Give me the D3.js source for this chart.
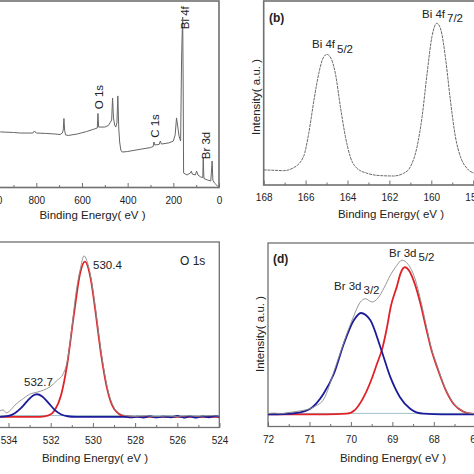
<!DOCTYPE html>
<html><head><meta charset="utf-8">
<script src="https://cdn.jsdelivr.net/npm/d3@7"></script>
<style>
html,body{margin:0;padding:0;background:#fff;}
svg{display:block;font-family:"Liberation Sans",Arial,sans-serif;}
</style></head>
<body>
<svg id="c" width="474" height="474"></svg>
<script>
// ---------- DATA ----------
// (a) survey spectrum: binding energy (eV) / intensity (a.u.)
const surveyE = [958,900,870,815,808,800,760,720,696,686,682,679,676,672,660,620,580,545,533,530,527,500,485,475,470,466,462,457,452,447,443,439,435,430,424,400,350,300,288,285,281,262,257,252,220,200,192,186,182,175,168,164,162,159,157,155,140,125,121,117,104,98,92,80,71,69,66,50,36,30,27,20,10,2];
const surveyI = [29.8,29.5,29.2,29.2,30.3,29.2,29.0,28.7,28.4,29.2,30.8,37.0,30.8,28.2,27.9,28.7,30.0,31.4,31.9,39.7,32.4,32.4,33.2,35.1,36.2,48.0,37.3,33.5,32.4,34.6,49.1,31.9,24.4,20.1,19.0,19.3,20.4,21.4,22.0,24.4,22.8,23.1,24.9,23.3,23.9,24.9,28.2,37.3,34.0,27.6,24.9,68.4,79.1,91.4,57.6,7.8,6.7,7.8,8.8,7.2,6.7,8.8,6.7,5.6,5.4,15.8,4.8,4.0,3.5,14.2,4.0,2.4,1.3,0.3];
const surveyMajor = [0,200,400,600,800,1000];
const surveyMinor = [100,300,500,700,900];
const surveyLabels = [{t:"O 1s",E:530,I:48.5},{t:"C 1s",E:285,I:33},{t:"Bi 4f",E:154,I:91},{t:"Br 3d",E:63,I:22.5}];

// (b) Bi 4f
const biE = [168,167.5,167.05,166.6,166.1,165.85,165.6,165.37,165.17,164.98,164.79,164.58,164.34,164.1,163.87,163.55,163.07,162.43,161.8,161.32,161.0,160.68,160.44,160.2,159.97,159.73,159.54,159.33,159.09,158.85,158.61,158.3,157.96];
const biI = [8.2,8.0,7.8,9.2,15.4,28.1,46.2,60.7,68.9,71.0,68.9,60.7,42.6,26.3,15.4,9.1,6.4,5.1,4.9,6.4,9.9,20.8,37.1,60.7,80.6,87.9,84.2,69.7,46.2,26.3,15.4,9.1,6.4];
const biMajor = [168,166,164,162,160,158];
const biMinor = [167,165,163,161,159];

// (c) O 1s
const oRawE = [534.4,534.25,534.1,533.95,533.7,533.3,533.0,532.66,532.35,532.03,531.72,531.4,531.2,531.0,530.8,530.6,530.42,530.3,530.1,529.9,529.6,529.3,529.0,528.7,528.4,528.0,527.5,527.0,526.5,526.0,525.5,525.0,524.5,524.0];
const oRawI = [4,4.5,2.6,3.8,7.5,11.8,14.6,15.9,17.2,19.4,23.2,28,37,57,80,95,103.7,101,90,72,41,18,6,2,0.8,0.3,0.8,0.2,0.6,0.3,0.8,0.4,0.9,0.5];
const oLatticeE = [534.4,533.5,533.0,532.5,532.1,531.8,531.5,531.2,530.9,530.6,530.38,530.1,529.9,529.6,529.3,529.0,528.5,528.0,524.0];
const oLatticeI = [0,0,0,0.1,1.06,4.5,14.5,35.5,66,92.8,100,88.6,70.1,39.2,16.6,5.3,0.43,0,0];
const oAdsE = [534.4,534.0,533.7,533.4,533.1,532.85,532.65,532.4,532.1,531.8,531.5,531.2,530.8,530.0,529.0,528.5,528.2,527.9,527.6,527.3,527.0,526.7,526.3,526.0,525.7,525.4,525.1,524.8,524.5,524.2,524.0];
const oAdsI = [0.1,0.72,2.4,5.8,10.4,13.7,14.6,13.2,8.9,4.4,1.6,0.45,0.05,0,0,0,-0.3,0.2,-0.4,0.5,-0.3,0.2,-0.2,0.6,-0.4,0.3,-0.5,0.4,-0.2,0.6,0];
const oMajor = [534,532,530,528,526,524];
const oMinor = [535,533,531,529,527,525];

// (d) Br 3d
const brRawE = [72,71.85,71.7,71.54,71.3,71.14,70.89,70.65,70.41,70.17,69.93,69.78,69.65,69.49,69.35,69.2,69.04,68.9,68.77,68.62,68.45,68.32,68.18,68.05,67.92,67.72,67.52,67.3,67.1,66.8];
const brRawI = [0.5,0.8,0.4,1.0,2.0,2.7,5,10.5,29,49,67,76,78.6,76.4,79,86,95,101,104.8,102,92,78,60,44,33,17.5,7.4,2.2,0.6,0.3];
const br52E = [72,70.6,70.1,69.9,69.69,69.5,69.37,69.24,69.13,69.04,68.89,68.8,68.7,68.58,68.45,68.32,68.18,68.05,67.92,67.72,67.52,67.3,67.1,66.8];
const br52I = [0,0,0.4,3,11.8,24,34.4,45,59,73,87,96,100,97,88,75,58,43,32,17,7,2,0.4,0];
const br32E = [72,71.6,71.3,70.98,70.66,70.41,70.17,69.93,69.76,69.53,69.29,69.05,68.82,68.57,68.25,67.8,66.8];
const br32I = [0,0.2,0.9,3.8,14,27.6,48,63.9,68.9,63.9,45.8,25.4,11.8,3.8,0.4,0,0];
const brMajor = [72,71,70,69,68,67];
const brMinor = [71.5,70.5,69.5,68.5,67.5];

// ---------- DRAW ----------
const svg = d3.select("#c");
svg.append("rect").attr("width",474).attr("height",474).attr("fill","#fff");
const FONT = "11.5px";
const frameCol = "#707070";

function zip(E,I){ return E.map((e,i)=>({e:e,v:I[i]})); }

function panel(o){
  const g = svg.append("g");
  const x = d3.scaleLinear().domain(o.xd).range(o.xr);
  const y = d3.scaleLinear().domain(o.yd).range(o.yr);
  const clipId = "clip"+o.id;
  svg.append("clipPath").attr("id",clipId).append("rect")
    .attr("x",o.box[0]).attr("y",o.box[1]).attr("width",o.box[2]-o.box[0]).attr("height",o.box[3]-o.box[1]);
  const ax = g.append("g").attr("transform","translate(0,"+o.box[3]+")");
  ax.call(d3.axisBottom(x).tickValues(o.minor).tickSizeInner(-2.5).tickSizeOuter(0).tickFormat(""));
  const ax2 = g.append("g").attr("transform","translate(0,"+o.box[3]+")");
  ax2.call(d3.axisBottom(x).tickValues(o.major).tickSizeInner(-4.5).tickSizeOuter(0).tickPadding(9).tickFormat(d3.format("d")));
  [ax,ax2].forEach(a=>{
    a.select(".domain").remove();
    a.selectAll("line").attr("stroke",frameCol).attr("stroke-width",1);
    a.selectAll("text").attr("font-size","10px").attr("fill","#222").attr("font-family","Liberation Sans, Arial, sans-serif");
  });
  g.append("rect").attr("x",o.box[0]).attr("y",o.box[1]).attr("width",o.box[2]-o.box[0]).attr("height",o.box[3]-o.box[1])
    .attr("fill","none").attr("stroke",frameCol).attr("stroke-width",o.fw||1.3);
  g.append("text").attr("x",o.xt[0]).attr("y",o.xt[1]).attr("text-anchor","middle").attr("font-size",FONT).attr("fill","#222")
    .text("Binding Energy( eV )");
  if(o.yt){
    g.append("text").attr("transform","translate("+o.yt[0]+","+o.yt[1]+") rotate(-90)").attr("text-anchor","middle")
      .attr("dominant-baseline","central").attr("font-size",FONT).attr("fill","#222").text("Intensity( a.u. )");
  }
  const pg = g.append("g").attr("clip-path","url(#"+clipId+")");
  o.series.forEach(s=>{
    const line = d3.line().x(d=>x(d.e)).y(d=>y(d.v)).curve(s.curve||d3.curveMonotoneX);
    pg.append("path").datum(zip(s.E,s.I)).attr("d",line).attr("fill","none")
      .attr("stroke",s.color).attr("stroke-width",s.w).attr("stroke-dasharray",s.dash||null)
      .attr("stroke-linejoin","round");
  });
  return {g:g,x:x,y:y};
}

// (a)
const A = panel({id:"a", xd:[0,800], xr:[219,36.3], yd:[0,100], yr:[187.5,1], box:[-40,1,219,187.5],
  major:surveyMajor, minor:surveyMinor, xt:[92.5,218.5], fw:1.6,
  series:[{E:surveyE,I:surveyI,color:"#666",w:1,curve:d3.curveLinear}]});
surveyLabels.forEach(l=>{
  A.g.append("text").attr("transform","translate("+(A.x(l.E)+1)+","+A.y(l.I)+") rotate(-90)")
   .attr("text-anchor","middle").attr("dominant-baseline","central").attr("font-size",FONT).attr("fill","#222").text(l.t);
});

// (b)
const B = panel({id:"b", xd:[168,158], xr:[263.7,473.2], yd:[0,100], yr:[185,1], box:[263.7,1,490,185],
  major:biMajor, minor:biMinor, xt:[391,218], yt:[256,97], fw:1.6,
  series:[{E:biE,I:biI,color:"#6a6a6a",w:1,dash:"3,0.8"}]});
B.g.append("text").attr("x",269).attr("y",22).attr("font-size","12px").attr("font-weight","bold").attr("fill","#222").text("(b)");
function subLabel(g,x,y,main,sub,dy){
  const t = g.append("text").attr("x",x).attr("y",y).attr("font-size",FONT).attr("fill","#222");
  t.append("tspan").text(main);
  t.append("tspan").attr("dy",dy).attr("dx",2).text(sub);
}
subLabel(B.g,312,48,"Bi 4f","5/2",5);
subLabel(B.g,422,18,"Bi 4f","7/2",3.5);

// (c)
const C = panel({id:"c", xd:[534,524], xr:[8.5,219.5], yd:[-6.8,112.6], yr:[427.5,242], box:[-40,242,219.3,427.5],
  major:oMajor, minor:oMinor, xt:[95,462],
  series:[
    {E:[534.4,524],I:[0.9,0.9],color:"#9fc3c9",w:1},
    {E:oLatticeE,I:oLatticeI,color:"#e02228",w:1.8},
    {E:oAdsE,I:oAdsI,color:"#1b1b9c",w:1.8},
    {E:oRawE,I:oRawI,color:"#8c8c8c",w:0.9}
  ]});
C.g.append("text").attr("x",180).attr("y",265).attr("font-size","12px").attr("fill","#222").text("O 1s");
C.g.append("text").attr("x",93).attr("y",269).attr("font-size",FONT).attr("fill","#222").text("530.4");
C.g.append("text").attr("x",24).attr("y",386).attr("font-size",FONT).attr("fill","#222").text("532.7");

// (d)
const D = panel({id:"d", xd:[72,67], xr:[268,475.25], yd:[-8.3,116.5], yr:[426.5,243], box:[268,243,490,426.5],
  major:brMajor, minor:brMinor, xt:[393,461.5], yt:[259.5,334],
  series:[
    {E:[72,66.8],I:[0.6,0.6],color:"#9fc3c9",w:1},
    {E:br52E,I:br52I,color:"#e02228",w:1.8},
    {E:br32E,I:br32I,color:"#1b1b9c",w:1.8},
    {E:brRawE,I:brRawI,color:"#8c8c8c",w:0.9}
  ]});
D.g.append("text").attr("x",273).attr("y",263).attr("font-size","12px").attr("font-weight","bold").attr("fill","#222").text("(d)");
subLabel(D.g,334,290,"Br 3d","3/2",4);
subLabel(D.g,389,257,"Br 3d","5/2",4);
</script>
</body></html>
